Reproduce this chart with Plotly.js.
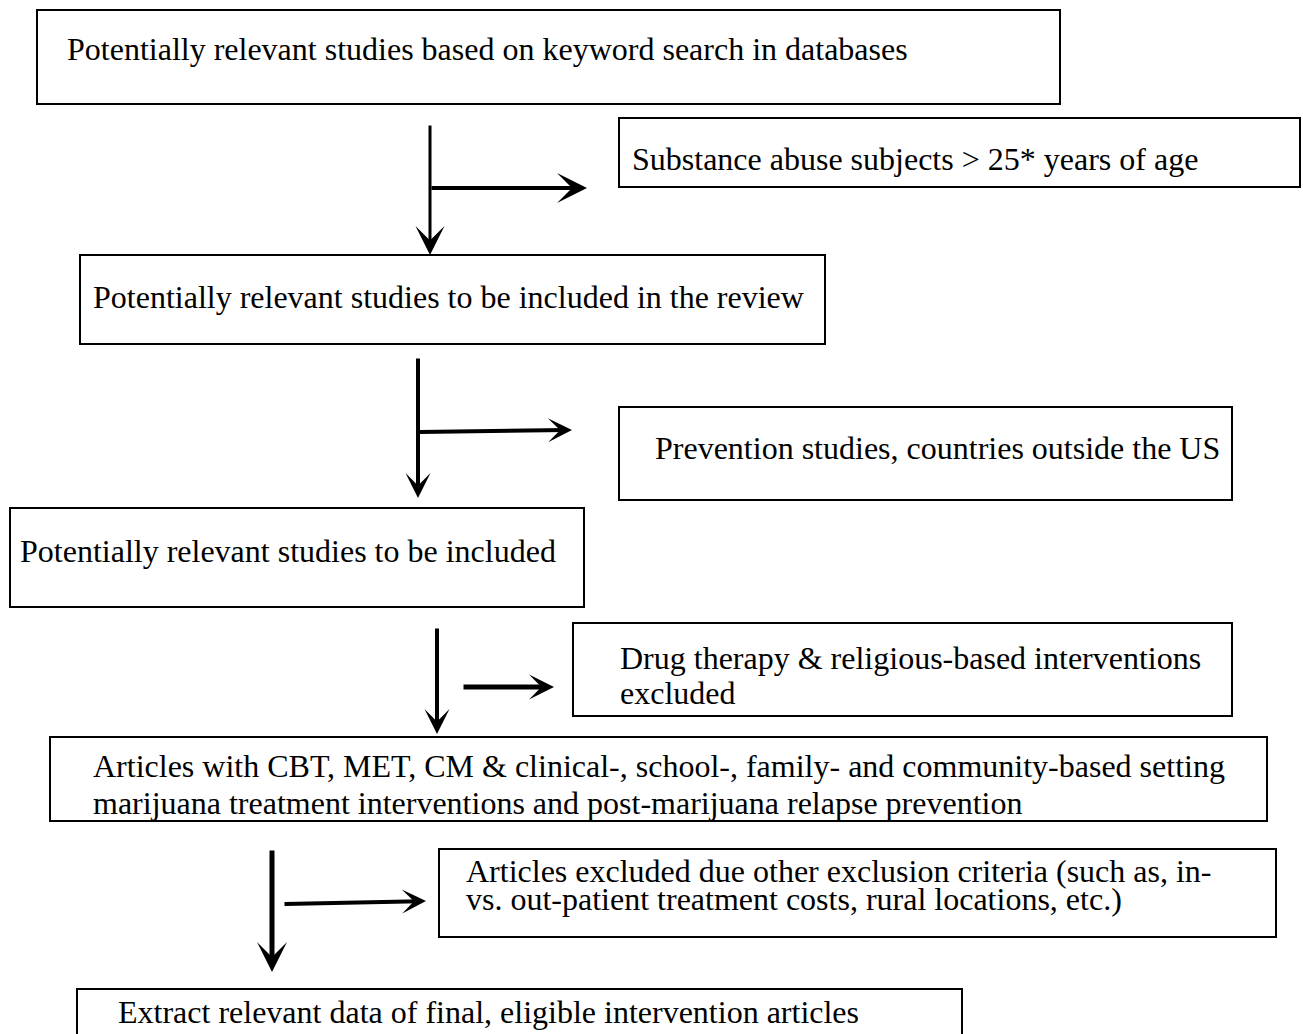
<!DOCTYPE html>
<html><head><meta charset="utf-8">
<script src="https://cdn.plot.ly/plotly-3.0.1.min.js"></script>
<style>html,body{margin:0;padding:0;background:#fff}</style>
</head><body><div id="chart" style="width:1303px;height:1034px"></div>
<script>
// ---- content: main flow steps (one entry per box, one string per text line)
const mainSteps = [
  ["Potentially relevant studies based on keyword search in databases"],
  ["Potentially relevant studies to be included in the review"],
  ["Potentially relevant studies to be included"],
  ["Articles with CBT, MET, CM & clinical-, school-, family- and community-based setting",
   "marijuana treatment interventions and post-marijuana relapse prevention"],
  ["Extract relevant data of final, eligible intervention articles"]
];
// ---- content: exclusion boxes
const exclusions = [
  ["Substance abuse subjects > 25* years of age"],
  ["Prevention studies, countries outside the US"],
  ["Drug therapy & religious-based interventions", "excluded"],
  ["Articles excluded due other exclusion criteria (such as, in-",
   "vs. out-patient treatment costs, rural locations, etc.)"]
];

// ---- layout geometry (pixel space of the page)
const mainGeom = [
  {x0:37, y0:10,  x1:1060, y1:104,  tx:66,  ty:[49]},
  {x0:80, y0:255, x1:825,  y1:344,  tx:92,  ty:[297]},
  {x0:10, y0:508, x1:584,  y1:607,  tx:19,  ty:[551]},
  {x0:50, y0:737, x1:1267, y1:821,  tx:92,  ty:[766, 803]},
  {x0:77, y0:989, x1:962,  y1:1045, tx:117, ty:[1012]}
];
const exclGeom = [
  {x0:619, y0:118, x1:1300, y1:187, tx:631, ty:[159]},
  {x0:619, y0:407, x1:1232, y1:500, tx:654, ty:[448]},
  {x0:573, y0:623, x1:1232, y1:716, tx:619, ty:[658, 693]},
  {x0:439, y0:849, x1:1276, y1:937, tx:465, ty:[871, 899]}
];
const arrowGeom = [
  {x0:430, y0:124, x1:430, y1:255, w:3, head:29},
  {x0:430, y0:188, x1:587, y1:188, w:4, head:30},
  {x0:418, y0:357, x1:418, y1:498, w:4, head:25},
  {x0:418, y0:432, x1:572, y1:430, w:4, head:24},
  {x0:437, y0:627, x1:437, y1:734, w:4, head:25},
  {x0:462, y0:687, x1:554, y1:687, w:5, head:25},
  {x0:272, y0:849, x1:272, y1:972, w:5, head:30},
  {x0:283, y0:904, x1:426, y1:901, w:4, head:24}
];

const FONT = {family:'Liberation Serif, Times New Roman, serif', size:32, color:'#000'};
const shapes = [];
const annotations = [];

function addBox(lines, g) {
  shapes.push({type:'rect', xref:'x', yref:'y', x0:g.x0, y0:g.y0, x1:g.x1, y1:g.y1,
               line:{color:'#000', width:2}, fillcolor:'rgba(0,0,0,0)'});
  lines.forEach((t, i) => {
    annotations.push({x:g.tx, y:g.ty[i], xref:'x', yref:'y', text:t, showarrow:false,
                      xanchor:'left', yanchor:'middle', font:FONT, borderpad:0});
  });
}
mainSteps.forEach((l, i) => addBox(l, mainGeom[i]));
exclusions.forEach((l, i) => addBox(l, exclGeom[i]));

arrowGeom.forEach(a => {
  annotations.push({x:a.x1, y:a.y1, ax:a.x0, ay:a.y0, xref:'x', yref:'y', axref:'x', ayref:'y',
                    text:'', showarrow:true, arrowhead:3, arrowwidth:a.w,
                    arrowsize:a.head/(6*a.w), arrowcolor:'#000', standoff:0});
});

const layout = {
  width:1303, height:1034,
  margin:{l:0, r:0, t:0, b:0},
  paper_bgcolor:'#fff', plot_bgcolor:'#fff',
  showlegend:false,
  xaxis:{range:[0,1303], visible:false, fixedrange:true},
  yaxis:{range:[1034,0], visible:false, fixedrange:true},
  shapes, annotations
};
Plotly.newPlot('chart', [{x:[], y:[], type:'scatter', mode:'markers', hoverinfo:'skip'}], layout,
               {staticPlot:true, displayModeBar:false});
</script></body></html>
